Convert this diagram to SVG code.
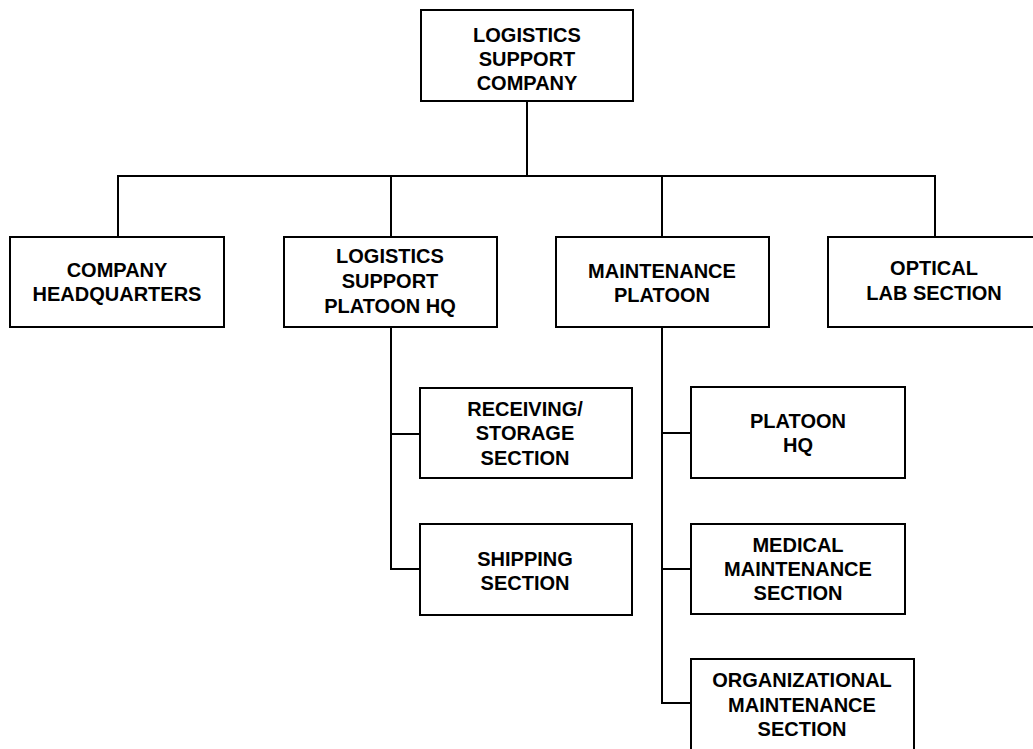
<svg xmlns="http://www.w3.org/2000/svg" width="1033" height="749" viewBox="0 0 1033 749">
<style>
.box{fill:#fff;stroke:#000;stroke-width:2}
.ln{fill:none;stroke:#000;stroke-width:2}
text{font-family:"Liberation Sans",Arial,sans-serif;font-weight:bold;font-size:20px;text-anchor:middle;fill:#000}
</style>
<rect width="1033" height="749" fill="#fff"/>
<g id="connectors" class="ln">
<path d="M527,101 V176"/>
<path d="M118,237 V176 H935 V237"/>
<path d="M391,176 V237"/>
<path d="M662,176 V237"/>
<path d="M391,327 V569 H420"/>
<path d="M391,434 H420"/>
<path d="M662,327 V703 H691"/>
<path d="M662,433 H691"/>
<path d="M662,569 H691"/>
</g>
<g id="logistics-support-company">
<rect class="box" x="421" y="10" width="212" height="91"/>
<text x="527" y="42">LOGISTICS</text>
<text x="527" y="66">SUPPORT</text>
<text x="527" y="90">COMPANY</text>
</g>
<g id="company-headquarters">
<rect class="box" x="10" y="237" width="214" height="90"/>
<text x="117" y="277">COMPANY</text>
<text x="117" y="301">HEADQUARTERS</text>
</g>
<g id="logistics-support-platoon-hq">
<rect class="box" x="284" y="237" width="213" height="90"/>
<text x="390" y="263">LOGISTICS</text>
<text x="390" y="288">SUPPORT</text>
<text x="390" y="313">PLATOON HQ</text>
</g>
<g id="maintenance-platoon">
<rect class="box" x="556" y="237" width="213" height="90"/>
<text x="662" y="278">MAINTENANCE</text>
<text x="662" y="302">PLATOON</text>
</g>
<g id="optical-lab-section">
<rect class="box" x="828" y="237" width="212" height="90"/>
<text x="934" y="275">OPTICAL</text>
<text x="934" y="300">LAB SECTION</text>
</g>
<g id="receiving-storage-section">
<rect class="box" x="420" y="388" width="212" height="90"/>
<text x="525" y="416">RECEIVING/</text>
<text x="525" y="440">STORAGE</text>
<text x="525" y="465">SECTION</text>
</g>
<g id="shipping-section">
<rect class="box" x="420" y="524" width="212" height="91"/>
<text x="525" y="566">SHIPPING</text>
<text x="525" y="590">SECTION</text>
</g>
<g id="platoon-hq">
<rect class="box" x="691" y="387" width="214" height="91"/>
<text x="798" y="428">PLATOON</text>
<text x="798" y="452">HQ</text>
</g>
<g id="medical-maintenance-section">
<rect class="box" x="691" y="524" width="214" height="90"/>
<text x="798" y="552">MEDICAL</text>
<text x="798" y="576">MAINTENANCE</text>
<text x="798" y="600">SECTION</text>
</g>
<g id="organizational-maintenance-section">
<rect class="box" x="691" y="659" width="223" height="100"/>
<text x="802" y="687">ORGANIZATIONAL</text>
<text x="802" y="712">MAINTENANCE</text>
<text x="802" y="736">SECTION</text>
</g>
</svg>
